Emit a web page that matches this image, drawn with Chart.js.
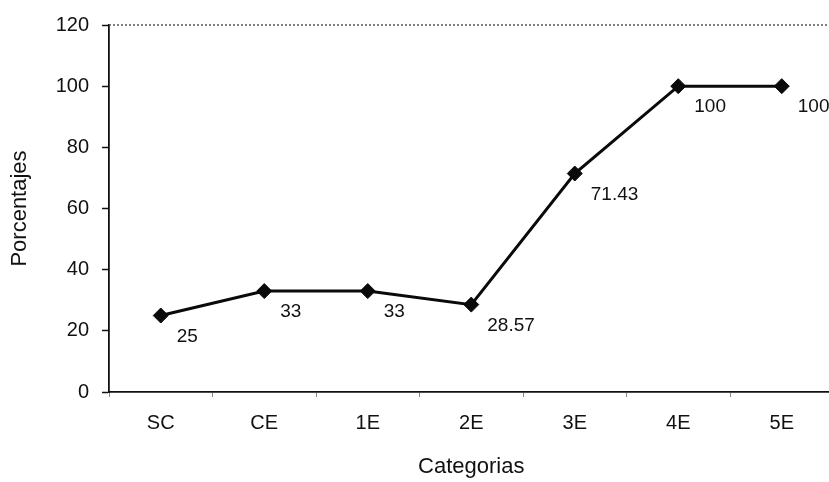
<!DOCTYPE html>
<html>
<head>
<meta charset="utf-8">
<script src="https://cdn.jsdelivr.net/npm/chart.js@4/dist/chart.umd.min.js"></script>
<style>
html,body{margin:0;padding:0;background:#fff;overflow:hidden;}
#wrap{width:829px;height:482px;overflow:hidden;position:relative;}
canvas{display:block;}
</style>
</head>
<body>
<div id="wrap"><canvas id="c" width="842" height="482"></canvas></div>
<script>
const categories = ['SC', 'CE', '1E', '2E', '3E', '4E', '5E'];
const porcentajes = [25, 33, 33, 28.57, 71.43, 100, 100];
const valueLabels = ['25', '33', '33', '28.57', '71.43', '100', '100'];
const yTicks = [0, 20, 40, 60, 80, 100, 120];

const FONT = "'Liberation Sans', Arial, sans-serif";

const labelPlugin = {
  id: 'valueLabels',
  afterDatasetsDraw(chart) {
    const ctx = chart.ctx;
    const meta = chart.getDatasetMeta(0);
    ctx.save();
    ctx.fillStyle = '#111';
    ctx.font = "19px " + FONT;
    ctx.textAlign = 'left';
    ctx.textBaseline = 'middle';
    meta.data.forEach((pt, i) => {
      ctx.fillText(valueLabels[i], pt.x + 16, pt.y + 21);
    });
    ctx.restore();
  }
};

const topLinePlugin = {
  id: 'topLine',
  beforeDatasetsDraw(chart) {
    const {ctx, chartArea} = chart;
    ctx.save();
    ctx.strokeStyle = '#555';
    ctx.lineWidth = 1.5;
    ctx.setLineDash([2, 2]);
    ctx.beginPath();
    ctx.moveTo(chartArea.left, chartArea.top);
    ctx.lineTo(chartArea.right, chartArea.top);
    ctx.stroke();
    ctx.restore();
  }
};

new Chart(document.getElementById('c'), {
  type: 'line',
  data: {
    labels: categories,
    datasets: [{
      data: porcentajes,
      borderColor: '#0a0a0a',
      backgroundColor: '#0a0a0a',
      borderWidth: 3,
      pointStyle: 'rectRot',
      pointRadius: 7.5,
      pointBackgroundColor: '#0a0a0a',
      pointBorderColor: '#0a0a0a',
      pointBorderWidth: 1,
      tension: 0,
      fill: false
    }]
  },
  options: {
    responsive: false,
    animation: false,
    devicePixelRatio: 1,
    layout: { padding: { left: 0, top: 22, right: 7, bottom: 0 } },
    plugins: {
      legend: { display: false },
      tooltip: { enabled: false }
    },
    scales: {
      x: {
        offset: true,
        afterFit(scale) { scale.height = 90; },
        grid: {
          offset: true,
          drawOnChartArea: false,
          drawTicks: true,
          tickLength: 5,
          tickColor: '#888',
          tickWidth: 1
        },
        border: { display: true, color: '#111', width: 1.8 },
        ticks: {
          color: '#111',
          font: { family: FONT, size: 20 },
          padding: 14
        },
        title: {
          display: true,
          text: 'Categorias',
          color: '#111',
          font: { family: FONT, size: 22 },
          padding: { top: 0, bottom: 2 }
        }
      },
      y: {
        min: 0,
        max: 120,
        afterFit(scale) { scale.width = 109; },
        afterBuildTicks(scale) { scale.ticks = yTicks.map(v => ({ value: v })); },
        grid: {
          drawOnChartArea: false,
          drawTicks: true,
          tickLength: 7,
          tickColor: '#111',
          tickWidth: 1.5
        },
        border: { display: true, color: '#111', width: 1.8 },
        ticks: {
          color: '#111',
          font: { family: FONT, size: 20 },
          padding: 13
        },
        title: {
          display: true,
          text: 'Porcentajes',
          color: '#111',
          font: { family: FONT, size: 22 },
          padding: { top: 7, bottom: 0 }
        }
      }
    }
  },
  plugins: [topLinePlugin, labelPlugin]
});
</script>
</body>
</html>
